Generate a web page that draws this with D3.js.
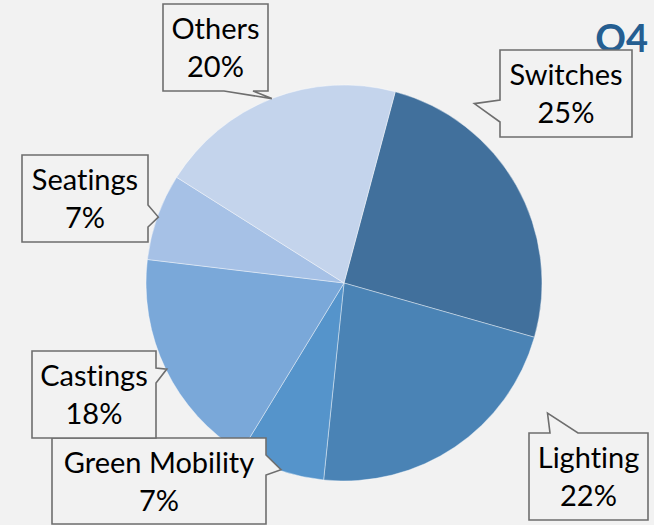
<!DOCTYPE html>
<html>
<head>
<meta charset="utf-8">
<script src="https://cdn.jsdelivr.net/npm/d3@7"></script>
<style>
  html, body { margin: 0; padding: 0; background: #f2f2f2; }
  svg { display: block; }
  text { font-variant-ligatures: none; font-feature-settings: "liga" 0, "clig" 0; }
</style>
</head>
<body>
<svg id="chart" width="654" height="525"></svg>
<script>
// data
var segments = ["Switches", "Lighting", "Green Mobility", "Castings", "Seatings", "Others"];
var shares = [25, 22, 7, 18, 7, 20];
var colors = ["#41709c", "#4a83b5", "#5594cb", "#7aa8d9", "#a6c1e6", "#c4d4ec"];

// callout boxes (layout only): box, side the pointer leaves from, base offsets, tip
var callouts = [
  { x: 500, y: 50,  w: 132, h: 87, side: "left",   b: [50, 72], tipAngle: 36,  tipK: 1.12 },
  { x: 529, y: 433, w: 119, h: 87, side: "top",    b: [21, 49], tipAngle: 122.6, tipK: 1.22 },
  { x: 52,  y: 438, w: 214, h: 86, side: "right",  b: [17, 37], tipK: 0.995 },
  { x: 32,  y: 351, w: 124, h: 87, side: "right",  b: [17, 32], tipK: 0.995 },
  { x: 22,  y: 155, w: 126, h: 87, side: "right",  b: [50, 72], tipK: 0.995 },
  { x: 163, y: 4,   w: 105, h: 87, side: "bottom", b: [61, 90], tipK: 1.0 }
];

var svg = d3.select("#chart");
var cx = 344, cy = 283, radius = 198;
var font = "Lato, 'Open Sans', sans-serif";

var g = svg.append("g").attr("transform", "translate(" + cx + "," + cy + ")");

var pie = d3.pie().sort(null).value(d => d)
  .startAngle(15 * Math.PI / 180)
  .endAngle(375 * Math.PI / 180);
var arcs = pie(shares);
var arc = d3.arc().innerRadius(0).outerRadius(radius);

g.selectAll("path").data(arcs)
  .enter().append("path")
  .attr("d", arc)
  .attr("fill", (d, i) => colors[i])
  .attr("stroke", "rgba(255,255,255,0.4)")
  .attr("stroke-width", 1);

// title, partly hidden behind the Switches callout
svg.append("text")
  .attr("x", 648).attr("y", 52)
  .attr("text-anchor", "end")
  .style("font-family", font)
  .style("font-weight", "bold")
  .style("font-size", "38px")
  .attr("fill", "#255e91")
  .text("Q4");

function tipPoint(d, c) {
  var a = c.tipAngle != null ? c.tipAngle * Math.PI / 180 : (d.startAngle + d.endAngle) / 2;
  var r = radius * c.tipK;
  return [cx + r * Math.sin(a), cy - r * Math.cos(a)];
}

function calloutPath(c, tip) {
  var x0 = c.x, y0 = c.y, x1 = c.x + c.w, y1 = c.y + c.h;
  var p;
  if (c.side === "top") {
    p = [[x0, y0], [x0 + c.b[0], y0], tip, [x0 + c.b[1], y0], [x1, y0], [x1, y1], [x0, y1]];
  } else if (c.side === "right") {
    p = [[x0, y0], [x1, y0], [x1, y0 + c.b[0]], tip, [x1, y0 + c.b[1]], [x1, y1], [x0, y1]];
  } else if (c.side === "bottom") {
    p = [[x0, y0], [x1, y0], [x1, y1], [x0 + c.b[1], y1], tip, [x0 + c.b[0], y1], [x0, y1]];
  } else {
    p = [[x0, y0], [x1, y0], [x1, y1], [x0, y1], [x0, y0 + c.b[1]], tip, [x0, y0 + c.b[0]]];
  }
  return "M" + p.map(q => q.join(",")).join("L") + "Z";
}

var labels = svg.selectAll("g.callout").data(arcs)
  .enter().append("g")
  .attr("class", "callout");

labels.append("path")
  .attr("d", (d, i) => calloutPath(callouts[i], tipPoint(d, callouts[i])))
  .attr("fill", "#f2f2f2")
  .attr("stroke", "#6e6e6e")
  .attr("stroke-width", 1.6);

labels.append("text")
  .attr("x", (d, i) => callouts[i].x + callouts[i].w / 2)
  .attr("y", (d, i) => callouts[i].y + 35)
  .attr("text-anchor", "middle")
  .style("font-family", font)
  .style("font-size", "29px")
  .attr("fill", "#000")
  .text((d, i) => segments[i]);

labels.append("text")
  .attr("x", (d, i) => callouts[i].x + callouts[i].w / 2)
  .attr("y", (d, i) => callouts[i].y + 73)
  .attr("text-anchor", "middle")
  .style("font-family", font)
  .style("font-size", "29px")
  .attr("fill", "#000")
  .text((d, i) => shares[i] + "%");
</script>
</body>
</html>
